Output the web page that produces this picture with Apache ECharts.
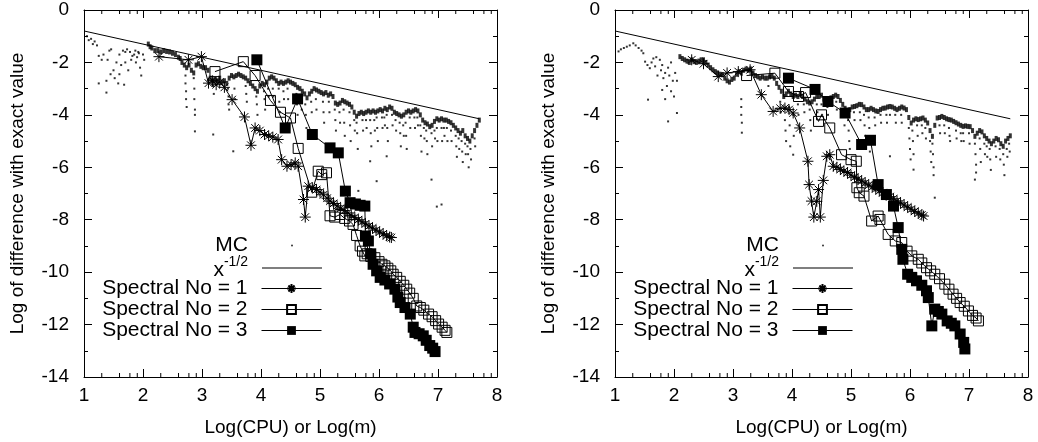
<!DOCTYPE html>
<html><head><meta charset="utf-8">
<script src="https://cdn.jsdelivr.net/npm/echarts@6/dist/echarts.min.js"></script>
<style>html,body{margin:0;padding:0;background:#fff}#c{width:1038px;height:442px}</style>
</head><body><div id="c"></div>
<script>
// ---------- axis / label data ----------
const xRange = [1, 8];
const yRange = [-14, 0];
const xMinorOffsets = [0.301, 0.602, 0.778, 0.903];
const xTitle = 'Log(CPU) or Log(m)';
const yTitle = 'Log of difference with exact value';
const seriesNames = ['MC', 'x-1/2', 'Spectral No = 1', 'Spectral No = 2', 'Spectral No = 3'];

// ---------- reference line x^-1/2 ----------
const refLine = [[1, -0.8], [7.7, -4.15]];

// ---------- LEFT panel ----------
const mcBandL = [[2.09,-1.3],[2.12,-1.4],[2.15,-1.45],[2.2,-1.55],[2.25,-1.55],[2.3,-1.6],[2.35,-1.55],[2.4,-1.58],[2.45,-1.6],[2.5,-1.65],[2.55,-1.7],[2.6,-1.8],[2.63,-1.85],[2.66,-2.0],[2.7,-2.1],[2.74,-2.2],[2.78,-2.1],[2.82,-2.3],[2.86,-2.4],[2.9,-2.1],[2.94,-2.05],[2.98,-2.15],[3.02,-2.2],[3.06,-2.2],[3.1,-2.3],[3.14,-2.6],[3.18,-2.7],[3.22,-2.65],[3.26,-2.7],[3.3,-2.6],[3.34,-2.75],[3.38,-2.7],[3.42,-2.8],[3.46,-2.6],[3.5,-2.5],[3.54,-2.55],[3.58,-2.5],[3.62,-2.45],[3.66,-2.5],[3.7,-2.55],[3.74,-2.6],[3.78,-2.7],[3.82,-2.8],[3.86,-2.9],[3.9,-3.0],[3.94,-3.1],[3.98,-2.9],[4.02,-2.8],[4.06,-2.85],[4.1,-2.75],[4.14,-2.6],[4.18,-2.55],[4.22,-2.6],[4.26,-2.7],[4.3,-2.8],[4.34,-2.75],[4.38,-2.8],[4.42,-2.75],[4.46,-2.7],[4.5,-2.75],[4.54,-2.8],[4.58,-2.85],[4.62,-2.95],[4.66,-3.0],[4.7,-3.1],[4.74,-3.2],[4.78,-3.35],[4.82,-3.2],[4.86,-3.1],[4.9,-3.0],[4.94,-3.05],[4.98,-3.1],[5.02,-3.15],[5.06,-3.2],[5.1,-3.15],[5.14,-3.25],[5.18,-3.2],[5.22,-3.3],[5.26,-3.55],[5.3,-3.6],[5.34,-3.55],[5.38,-3.45],[5.42,-3.5],[5.46,-3.55],[5.5,-3.6],[5.54,-3.7],[5.58,-3.9],[5.62,-4.05],[5.66,-3.95],[5.7,-3.9],[5.74,-3.95],[5.78,-3.9],[5.82,-3.85],[5.86,-3.9],[5.9,-3.85],[5.94,-3.9],[5.98,-3.85],[6.02,-3.8],[6.06,-3.85],[6.1,-3.75],[6.14,-3.8],[6.18,-3.7],[6.22,-3.75],[6.26,-3.9],[6.3,-3.95],[6.34,-4.0],[6.38,-4.05],[6.42,-4.0],[6.46,-3.9],[6.5,-3.85],[6.54,-3.9],[6.58,-3.85],[6.62,-3.8],[6.66,-3.85],[6.7,-4.0],[6.74,-4.2],[6.78,-4.3],[6.82,-4.35],[6.86,-4.45],[6.9,-4.4],[6.94,-4.25],[6.98,-4.15],[7.02,-4.2],[7.06,-4.15],[7.1,-4.2],[7.14,-4.2],[7.18,-4.25],[7.22,-4.3],[7.26,-4.4],[7.3,-4.5],[7.34,-4.6],[7.38,-4.7],[7.42,-4.6],[7.46,-4.8],[7.5,-4.9],[7.54,-5.0],[7.58,-4.8],[7.62,-4.6],[7.66,-4.4],[7.7,-4.2]];
const mcDotsL = [[1.05,-1.0],[1.08,-1.15],[1.12,-1.1],[1.15,-1.3],[1.18,-1.2],[1.22,-1.35],[1.25,-1.75],[1.3,-1.9],[1.33,-1.7],[1.38,-2.7],[1.4,-1.9],[1.43,-1.55],[1.46,-1.5],[1.5,-2.3],[1.52,-2.6],[1.55,-2.0],[1.58,-2.8],[1.6,-1.7],[1.63,-2.1],[1.66,-1.55],[1.68,-2.85],[1.7,-1.6],[1.73,-1.5],[1.75,-2.3],[1.78,-1.6],[1.8,-1.9],[1.82,-1.75],[1.85,-1.7],[1.88,-2.0],[1.9,-1.8],[1.93,-1.65],[1.95,-2.2],[1.97,-2.5],[2.0,-1.7],[2.02,-1.9],[1.38,-3.15],[1.25,-2.8],[1.45,-2.45],[1.6,-2.45],[1.7,-2.0],[1.92,-1.6],[1.87,-1.55],
[2.72,-2.5],[2.72,-2.8],[2.73,-3.1],[2.73,-3.4],[2.74,-3.7],[2.86,-2.6],[2.87,-3.0],[2.87,-3.4],[2.88,-3.8],[2.88,-4.0],[2.88,-4.63],
[3.19,-2.9],[3.2,-3.2],[3.19,-4.75],[3.44,-3.0],[3.45,-3.3],[3.45,-3.6],[3.46,-3.8],[3.53,-5.39],[3.55,-3.0],[3.56,-3.4],[3.74,-2.9],[3.75,-3.2],[3.76,-3.5],
[3.92,-3.3],[3.93,-3.6],[3.94,-4.0],[4.05,-3.1],[4.06,-3.4],[4.07,-3.8],[4.12,-3.0],[4.13,-3.3],[4.2,-3.0],[4.21,-3.3],[4.3,-3.0],[4.31,-3.5],[4.32,-3.9],[4.38,-3.1],[4.39,-3.4],[4.45,-3.0],[4.46,-3.4],[4.6,-3.2],[4.61,-3.6],[4.62,-4.0],[4.68,-3.4],[4.69,-3.8],[4.75,-3.6],[4.76,-4.0],[4.77,-4.5],[4.85,-3.5],[4.86,-3.9],[4.93,-3.4],[4.94,-3.8],
[5.05,-3.5],[5.06,-3.9],[5.07,-4.3],[5.15,-3.5],[5.16,-3.9],[5.25,-3.8],[5.26,-4.2],[5.27,-4.6],[5.33,-3.9],[5.34,-4.3],[5.4,-3.8],[5.41,-4.3],[5.42,-4.8],[5.5,-3.9],[5.51,-4.4],[5.52,-5.0],[5.58,-4.2],[5.59,-4.6],[5.62,-4.3],[5.63,-4.7],[5.64,-5.3],[5.65,-6.9],[5.72,-4.2],[5.73,-4.6],[5.78,-4.2],[5.79,-4.5],[5.85,-4.2],[5.86,-4.7],[5.87,-5.2],[5.85,-5.77],[5.92,-4.2],[5.93,-4.6],[5.96,-4.1],[5.97,-4.5],[5.98,-5.0],[5.96,-6.53],[6.05,-4.1],[6.06,-4.5],[6.09,-4.1],[6.1,-4.4],[6.13,-4.0],[6.14,-4.5],[6.15,-5.0],[6.13,-5.58],[6.22,-4.0],[6.23,-4.4],[6.28,-4.2],[6.29,-4.6],[6.35,-4.3],[6.36,-4.7],[6.37,-5.2],[6.41,-4.4],[6.42,-4.8],[6.45,-4.3],[6.46,-4.8],[6.47,-5.3],[6.52,-4.1],[6.53,-4.5],[6.6,-4.1],[6.61,-4.5],[6.65,-4.1],[6.66,-4.4],[6.7,-4.4],[6.71,-4.8],[6.72,-5.4],[6.76,-4.5],[6.77,-4.9],[6.8,-4.6],[6.81,-5.0],[6.82,-5.5],[6.89,-4.7],[6.9,-5.2],[6.89,-6.47],[6.94,-4.6],[6.95,-4.9],[6.98,-4.5],[6.99,-5.0],[6.98,-7.5],[7.06,-4.5],[7.07,-5.0],[7.06,-7.42],[7.1,-4.5],[7.11,-4.8],[7.15,-4.5],[7.16,-5.0],[7.22,-4.6],[7.23,-5.0],[7.3,-4.8],[7.31,-5.2],[7.32,-5.6],[7.35,-4.9],[7.36,-5.3],[7.4,-5.0],[7.41,-5.4],[7.42,-5.8],[7.46,-5.1],[7.47,-5.5],[7.5,-5.2],[7.51,-5.5],[7.52,-6.0],[7.55,-5.3],[7.56,-5.7],[7.62,-4.9],[7.63,-5.2]];
const spec1L = [[2.27,-1.78],[2.77,-1.90],[2.99,-1.78],[3.11,-2.79],[3.18,-2.7],[3.24,-2.85],[3.3,-2.75],[3.38,-2.95],[3.51,-3.42],[3.72,-4.08],[3.83,-5.16],[3.9,-4.5],[3.98,-4.6],[4.06,-4.75],[4.13,-4.8],[4.2,-4.85],[4.29,-4.94],[4.35,-5.71],[4.44,-5.96],[4.51,-5.9],[4.58,-5.83],[4.63,-5.96],[4.72,-7.23],[4.75,-7.9],[4.8,-6.72],[4.87,-6.78],[4.94,-6.85],[5.0,-6.95],[5.06,-7.05],[5.12,-7.18],[5.17,-7.29],[5.23,-7.38],[5.29,-7.47],[5.35,-7.56],[5.41,-7.65],[5.47,-7.74],[5.53,-7.83],[5.59,-7.92],[5.65,-8.0],[5.71,-8.08],[5.77,-8.16],[5.83,-8.24],[5.89,-8.32],[5.95,-8.4],[6.01,-8.47],[6.07,-8.54],[6.13,-8.61],[6.18,-8.66],[6.21,-8.68]];
const spec2L = [[3.22,-2.35],[3.7,-1.97],[3.9,-2.5],[4.16,-3.45],[4.33,-3.9],[4.5,-4.12],[4.63,-5.28],[4.86,-6.95],[4.97,-6.15],[5.03,-6.28],[5.11,-6.21],[5.17,-7.85],[5.25,-7.9],[5.34,-7.8],[5.42,-7.95],[5.5,-8.05],[5.56,-8.18],[5.62,-8.6],[5.68,-9.0],[5.72,-9.2],[5.76,-9.38],[5.8,-9.3],[5.86,-9.4],[5.93,-9.45],[6.0,-9.6],[6.05,-9.7],[6.1,-9.76],[6.15,-9.85],[6.2,-9.95],[6.24,-10.08],[6.3,-10.2],[6.36,-10.35],[6.42,-10.5],[6.47,-10.65],[6.52,-10.8],[6.58,-11.0],[6.64,-11.29],[6.7,-11.35],[6.76,-11.45],[6.84,-11.6],[6.9,-11.7],[6.96,-11.85],[7.01,-11.98],[7.07,-12.1],[7.12,-12.22],[7.15,-12.3]];
const spec3L = [[3.93,-1.9],[4.41,-4.5],[4.62,-3.39],[4.87,-4.75],[5.17,-5.26],[5.31,-5.45],[5.43,-6.91],[5.51,-7.35],[5.6,-7.4],[5.68,-7.45],[5.76,-7.48],[5.77,-8.62],[5.82,-8.81],[5.86,-9.3],[5.9,-9.7],[5.96,-9.95],[6.02,-10.2],[6.1,-10.3],[6.18,-10.45],[6.27,-10.65],[6.32,-10.95],[6.36,-11.16],[6.44,-11.35],[6.53,-11.6],[6.58,-12.1],[6.61,-12.3],[6.68,-12.35],[6.75,-12.43],[6.8,-12.6],[6.86,-12.8],[6.91,-12.9],[6.95,-13.03]];

// ---------- RIGHT panel ----------
const mcBandR = [[2.1,-1.78],[2.14,-1.85],[2.18,-1.9],[2.22,-1.95],[2.26,-2.0],[2.3,-1.9],[2.34,-1.97],[2.38,-2.0],[2.42,-1.95],[2.46,-1.9],[2.5,-1.9],[2.54,-2.0],[2.58,-2.1],[2.62,-2.2],[2.66,-2.28],[2.7,-2.35],[2.74,-2.4],[2.78,-2.45],[2.82,-2.47],[2.86,-2.6],[2.9,-2.7],[2.94,-2.75],[2.98,-2.65],[3.02,-2.6],[3.06,-2.45],[3.1,-2.35],[3.14,-2.4],[3.18,-2.3],[3.22,-2.25],[3.26,-2.3],[3.3,-2.25],[3.34,-2.4],[3.38,-2.5],[3.42,-2.55],[3.46,-2.6],[3.5,-2.55],[3.54,-2.6],[3.58,-2.6],[3.62,-2.55],[3.66,-2.5],[3.7,-2.6],[3.74,-2.8],[3.78,-2.95],[3.82,-3.1],[3.86,-3.3],[3.9,-3.2],[3.94,-3.1],[3.98,-3.2],[4.02,-3.3],[4.06,-3.25],[4.1,-3.3],[4.14,-3.2],[4.18,-3.3],[4.22,-3.4],[4.26,-3.5],[4.3,-3.55],[4.34,-3.5],[4.38,-3.4],[4.42,-3.3],[4.46,-3.3],[4.5,-3.25],[4.54,-3.4],[4.58,-3.45],[4.62,-3.4],[4.66,-3.35],[4.7,-3.3],[4.74,-3.25],[4.78,-3.3],[4.82,-3.45],[4.86,-3.6],[4.9,-3.75],[4.94,-3.85],[4.98,-3.8],[5.02,-3.7],[5.06,-3.68],[5.1,-3.65],[5.14,-3.6],[5.18,-3.61],[5.22,-3.7],[5.26,-3.8],[5.3,-3.8],[5.34,-3.75],[5.38,-3.8],[5.42,-3.85],[5.46,-3.87],[5.5,-3.8],[5.54,-3.75],[5.58,-3.74],[5.62,-3.7],[5.66,-3.68],[5.7,-3.7],[5.74,-3.75],[5.78,-3.8],[5.82,-3.75],[5.86,-3.7],[5.9,-3.74],[5.94,-3.8],[5.98,-4.1],[6.02,-4.31],[6.06,-4.2],[6.1,-4.15],[6.14,-4.18],[6.18,-4.15],[6.22,-4.12],[6.26,-4.2],[6.3,-4.31],[6.34,-4.6],[6.38,-4.82],[6.42,-4.4],[6.46,-4.12],[6.5,-4.1],[6.54,-4.06],[6.58,-4.1],[6.62,-4.15],[6.66,-4.18],[6.7,-4.2],[6.74,-4.25],[6.78,-4.3],[6.82,-4.35],[6.86,-4.4],[6.9,-4.44],[6.94,-4.42],[6.98,-4.44],[7.02,-4.45],[7.06,-4.6],[7.1,-4.82],[7.14,-4.7],[7.18,-4.6],[7.22,-4.65],[7.26,-4.8],[7.3,-4.9],[7.34,-5.0],[7.38,-5.1],[7.42,-5.0],[7.46,-4.9],[7.5,-4.95],[7.54,-5.1],[7.58,-5.2],[7.62,-5.0],[7.66,-4.9],[7.7,-4.8]];
const mcDotsR = [[1.06,-1.58],[1.1,-1.5],[1.15,-1.45],[1.2,-1.4],[1.25,-1.35],[1.31,-1.27],[1.35,-1.35],[1.4,-1.45],[1.45,-1.55],[1.48,-1.65],[1.51,-1.97],[1.55,-2.1],[1.59,-2.22],[1.62,-2.0],[1.65,-1.85],[1.7,-1.8],[1.76,-1.9],[1.8,-2.1],[1.56,-3.42],[1.9,-4.25],[2.05,-3.93],[1.78,-2.3],[1.82,-2.6],[1.85,-2.4],[1.88,-2.9],[1.92,-2.5],[1.95,-3.1],[1.98,-2.7],[2.0,-3.3],[2.02,-2.4],[1.72,-2.5],[1.68,-2.15],[1.9,-2.2],[1.95,-2.0],[2.05,-2.7],[1.85,-3.4],[1.8,-3.05],
[3.14,-3.4],[3.14,-3.7],[3.14,-4.0],[3.15,-4.3],[3.15,-4.68],[3.6,-2.9],[3.8,-3.5],[3.81,-3.9],[3.88,-4.2],[3.89,-4.6],[3.9,-5.0],[3.95,-3.7],[3.96,-4.4],[3.97,-5.2],[4.02,-4.0],[4.03,-4.8],[4.02,-5.52],[4.1,-3.6],[4.11,-4.0],[4.2,-3.6],[4.21,-3.9],[4.3,-3.8],[4.31,-4.2],[4.32,-4.6],[4.42,-3.6],[4.43,-3.9],[4.5,-3.6],[4.51,-4.0],[4.6,-3.7],[4.61,-4.0],[4.75,-3.5],[4.76,-3.8],[4.88,-4.0],[4.89,-4.4],[4.95,-4.2],[4.96,-4.6],[4.97,-5.0],[4.98,-5.3],[5.05,-3.9],[5.06,-4.2],[5.15,-3.9],[5.16,-4.2],[5.22,-4.0],[5.23,-4.4],[5.24,-4.8],[5.25,-5.2],[5.3,-4.1],[5.31,-4.5],[5.32,-5.4],[5.4,-4.1],[5.41,-4.4],[5.5,-4.0],[5.51,-4.3],[5.6,-4.0],[5.61,-4.3],[5.66,-4.0],[5.66,-5.58],[5.75,-4.0],[5.76,-4.3],[5.85,-4.0],[5.86,-4.3],[5.98,-4.5],[5.99,-4.9],[6.0,-5.3],[6.01,-5.7],[6.04,-4.6],[6.05,-5.0],[6.06,-5.5],[6.06,-6.09],[6.12,-4.4],[6.13,-4.8],[6.2,-4.4],[6.21,-4.7],[6.26,-4.5],[6.27,-4.9],[6.34,-5.0],[6.35,-5.4],[6.36,-5.8],[6.38,-5.1],[6.39,-5.5],[6.4,-6.0],[6.4,-6.3],[6.42,-7.16],[6.5,-4.4],[6.51,-4.7],[6.58,-4.4],[6.59,-4.7],[6.66,-4.5],[6.67,-4.8],[6.68,-5.0],[6.78,-4.6],[6.79,-4.9],[6.86,-4.7],[6.87,-5.0],[6.9,-4.7],[6.91,-5.0],[7.0,-4.7],[7.01,-5.1],[7.1,-5.1],[7.11,-5.5],[7.12,-5.9],[7.12,-6.2],[7.1,-6.47],[7.18,-4.9],[7.19,-5.3],[7.2,-5.8],[7.26,-5.1],[7.27,-5.5],[7.3,-5.2],[7.31,-5.6],[7.35,-5.3],[7.36,-5.7],[7.37,-6.1],[7.45,-5.2],[7.46,-5.6],[7.52,-5.3],[7.53,-5.7],[7.58,-5.5],[7.59,-5.9],[7.6,-6.3],[7.64,-5.3],[7.65,-5.6],[7.68,-5.1],[7.69,-5.4]];
const spec1R = [[2.3,-1.9],[2.5,-2.05],[2.75,-2.54],[2.9,-2.4],[3.09,-2.35],[3.29,-2.28],[3.48,-3.23],[3.68,-3.87],[3.8,-3.75],[3.88,-3.74],[3.95,-3.8],[4.02,-3.93],[4.13,-4.5],[4.27,-5.77],[4.29,-6.66],[4.33,-7.29],[4.37,-7.9],[4.42,-7.3],[4.45,-6.85],[4.48,-7.9],[4.53,-6.5],[4.59,-5.58],[4.64,-5.52],[4.7,-5.96],[4.76,-6.0],[4.82,-6.08],[4.88,-6.15],[4.94,-6.2],[5.0,-6.3],[5.06,-6.38],[5.12,-6.45],[5.18,-6.52],[5.24,-6.6],[5.3,-6.68],[5.36,-6.75],[5.42,-6.82],[5.48,-6.9],[5.54,-6.97],[5.6,-7.05],[5.66,-7.12],[5.72,-7.2],[5.78,-7.28],[5.84,-7.36],[5.9,-7.44],[5.96,-7.52],[6.02,-7.6],[6.08,-7.68],[6.14,-7.75],[6.2,-7.82],[6.23,-7.86]];
const spec2R = [[3.23,-2.5],[3.71,-2.41],[3.94,-3.11],[4.11,-3.3],[4.23,-3.15],[4.45,-4.25],[4.5,-4.0],[4.64,-4.5],[4.84,-5.52],[5.0,-5.71],[5.09,-5.77],[5.1,-6.78],[5.14,-6.97],[5.22,-7.1],[5.35,-8.05],[5.46,-7.86],[5.49,-7.99],[5.63,-8.56],[5.75,-8.81],[5.86,-8.87],[5.95,-9.2],[6.03,-9.38],[6.14,-9.51],[6.2,-9.65],[6.28,-9.83],[6.35,-9.95],[6.42,-10.08],[6.5,-10.25],[6.59,-10.46],[6.66,-10.65],[6.73,-10.84],[6.79,-11.0],[6.85,-11.16],[6.92,-11.3],[6.99,-11.48],[7.06,-11.65],[7.12,-11.75],[7.16,-11.86]];
const spec3R = [[3.94,-2.6],[4.39,-3.03],[4.61,-3.49],[4.9,-3.93],[5.18,-5.13],[5.33,-4.97],[5.46,-6.66],[5.6,-7.04],[5.72,-7.48],[5.8,-8.3],[5.86,-9.13],[5.88,-9.51],[5.96,-10.08],[6.03,-10.2],[6.11,-10.33],[6.2,-10.5],[6.28,-10.71],[6.31,-10.97],[6.37,-12.05],[6.42,-11.41],[6.48,-11.5],[6.54,-11.6],[6.63,-11.86],[6.7,-11.95],[6.76,-12.05],[6.85,-12.36],[6.91,-12.68],[6.93,-12.93]];

// ---------- build ----------
const FONT = 'Liberation Sans, Arial, Helvetica, sans-serif';
const panels = [
  {band: mcBandL, dots: mcDotsL, s1: spec1L, s2: spec2L, s3: spec3L},
  {band: mcBandR, dots: mcDotsR, s1: spec1R, s2: spec2R, s3: spec3R}
];
const gridLefts = [84, 615];
const legendRights = [716, 185];
const legendTops = [235, 255, 278, 299, 320];

const minorX = [];
for (let i = xRange[0]; i < xRange[1]; i++) xMinorOffsets.forEach(d => minorX.push([i + d, yRange[0]]));

const asterisk = 'path://M0,5L10,5M5,0L5,10M1.5,1.5L8.5,8.5M8.5,1.5L1.5,8.5';
const black = '#000';
const txt = {color: black, fontSize: 19, fontFamily: FONT};
const legTxt = {color: black, fontSize: 21, fontFamily: FONT};

const grids = [], xAxes = [], yAxes = [], series = [], legends = [];
panels.forEach((p, g) => {
  grids.push({left: gridLefts[g], top: 10, width: 413, height: 368});
  const xBase = {gridIndex: g, type: 'value', min: xRange[0], max: xRange[1], interval: 1,
    axisLine: {onZero: false, lineStyle: {color: black, width: 1}},
    axisTick: {inside: true, length: 8, lineStyle: {color: black}},
    splitLine: {show: false}};
  xAxes.push(Object.assign({}, xBase, {position: 'bottom',
    axisLabel: Object.assign({margin: 9}, txt),
    name: xTitle, nameLocation: 'middle', nameGap: 41, nameTextStyle: txt}));
  xAxes.push(Object.assign({}, xBase, {position: 'top', axisLabel: {show: false}}));
  const yBase = {gridIndex: g, type: 'value', min: yRange[0], max: yRange[1], interval: 2,
    axisLine: {onZero: false, lineStyle: {color: black, width: 1}},
    axisTick: {inside: true, length: 8, lineStyle: {color: black}},
    minorTick: {show: true, splitNumber: 2, length: 4, lineStyle: {color: black}},
    splitLine: {show: false}, minorSplitLine: {show: false}};
  yAxes.push(Object.assign({}, yBase, {position: 'left',
    axisLabel: Object.assign({margin: 15}, txt),
    name: yTitle, nameLocation: 'middle', nameGap: 57, nameTextStyle: txt}));
  yAxes.push(Object.assign({}, yBase, {position: 'right', axisLabel: {show: false}}));

  const ax = {xAxisIndex: 2 * g, yAxisIndex: 2 * g};
  series.push(Object.assign({type: 'scatter', name: seriesNames[0], data: p.band, symbol: 'rect', symbolSize: [3, 5],
    itemStyle: {color: black}, silent: true}, ax));
  series.push(Object.assign({type: 'scatter', name: seriesNames[0], data: p.dots, symbol: 'rect', symbolSize: 2,
    itemStyle: {color: black}, silent: true}, ax));
  series.push(Object.assign({type: 'line', name: seriesNames[1], data: refLine, symbol: 'none',
    lineStyle: {color: black, width: 1}, itemStyle: {color: black}, silent: true}, ax));
  series.push(Object.assign({type: 'line', name: seriesNames[2], data: p.s1, symbol: asterisk, symbolSize: 11,
    showAllSymbol: true, lineStyle: {color: black, width: 1},
    itemStyle: {color: black, borderColor: black, borderWidth: 1}, silent: true}, ax));
  series.push(Object.assign({type: 'line', name: seriesNames[3], data: p.s2, symbol: 'rect', symbolSize: 10,
    showAllSymbol: true, lineStyle: {color: black, width: 1},
    itemStyle: {color: 'rgba(0,0,0,0)', borderColor: black, borderWidth: 1}, silent: true}, ax));
  series.push(Object.assign({type: 'line', name: seriesNames[4], data: p.s3, symbol: 'rect', symbolSize: 11,
    showAllSymbol: true, lineStyle: {color: black, width: 1},
    itemStyle: {color: black, borderColor: black, borderWidth: 0}, silent: true}, ax));
  series.push(Object.assign({type: 'custom', name: 'minorTicks', data: minorX, silent: true, clip: false,
    renderItem: function (params, api) {
      const x = api.value(0);
      const b = api.coord([x, yRange[0]]);
      const t = api.coord([x, yRange[1]]);
      const st = {stroke: black, lineWidth: 1};
      return {type: 'group', children: [
        {type: 'line', shape: {x1: b[0], y1: b[1], x2: b[0], y2: b[1] - 4}, style: st},
        {type: 'line', shape: {x1: t[0], y1: t[1], x2: t[0], y2: t[1] + 4}, style: st}
      ]};
    }}, ax));

  seriesNames.forEach((nm, i) => {
    const lg = {data: [nm], right: legendRights[g], top: legendTops[i], orient: 'horizontal', align: 'right',
      padding: 0, itemWidth: 60, itemHeight: 11, selectedMode: false,
      lineStyle: {width: 1, color: black},
      textStyle: Object.assign({padding: [0, 9, 0, 0]}, legTxt)};
    if (i === 0) {
      lg.icon = 'circle'; lg.itemWidth = 2; lg.itemHeight = 2;
      lg.right = legendRights[g] + 29;
      lg.textStyle.padding = [0, 38, 0, 0];
    }
    if (i === 1) {
      lg.icon = 'rect'; lg.itemHeight = 1;
      lg.formatter = function () { return '{b|x}{s|-1/2}'; };
      lg.textStyle.rich = {
        b: {fontSize: 21, fontFamily: FONT, color: black, padding: [5, 0, 0, 0], verticalAlign: 'bottom'},
        s: {fontSize: 14, fontFamily: FONT, color: black, verticalAlign: 'top'}
      };
    }
    legends.push(lg);
  });
});

const chart = echarts.init(document.getElementById('c'), null, {renderer: 'canvas'});
chart.setOption({
  animation: false,
  backgroundColor: '#fff',
  grid: grids, xAxis: xAxes, yAxis: yAxes, series: series, legend: legends
});
</script></body></html>
